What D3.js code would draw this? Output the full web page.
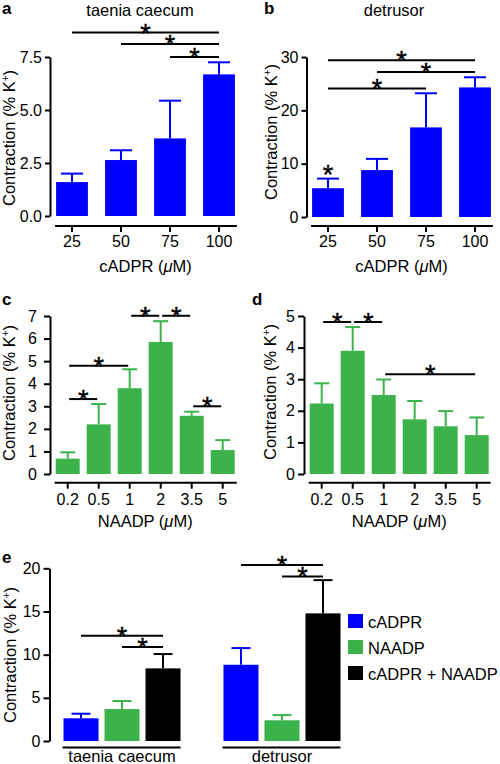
<!DOCTYPE html>
<html><head><meta charset="utf-8">
<script src="https://cdn.jsdelivr.net/npm/d3@7"></script>
<style>body{margin:0;background:#fff}svg{display:block}</style>
</head><body><svg id="chart" width="500" height="764"></svg>
<script>
// ---------- data ----------
const cadprDoses = ["25", "50", "75", "100"];
const naadpDoses = ["0.2", "0.5", "1", "2", "3.5", "5"];
const taeniaCadprMean = [1.6, 2.64, 3.66, 6.68];
const taeniaCadprSem = [0.4, 0.46, 1.78, 0.57];
const detrusorCadprMean = [5.4, 8.8, 16.8, 24.3];
const detrusorCadprSem = [1.8, 2.1, 6.4, 1.9];
const taeniaNaadpMean = [0.68, 2.2, 3.8, 5.85, 2.58, 1.06];
const taeniaNaadpSem = [0.28, 0.9, 0.84, 0.92, 0.18, 0.44];
const detrusorNaadpMean = [2.23, 3.9, 2.5, 1.73, 1.51, 1.23];
const detrusorNaadpSem = [0.64, 0.75, 0.49, 0.58, 0.48, 0.56];
const tissues = ["taenia caecum", "detrusor"];
const treatments = ["cADPR", "NAADP", "cADPR + NAADP"];
const cadprMean = [2.63, 8.83];
const cadprSem = [0.53, 1.93];
const naadpMean = [3.7, 2.4];
const naadpSem = [0.93, 0.6];
const bothMean = [8.41, 14.78];
const bothSem = [1.66, 3.85];
const yTicksA = [0, 2.5, 5, 7.5];
const yTicksB = [0, 10, 20, 30];
const yTicksC = [0, 1, 2, 3, 4, 5, 6, 7];
const yTicksD = [0, 1, 2, 3, 4, 5];
const yTicksE = [0, 5, 10, 15, 20];
// significance brackets: [fromIndex, toIndex, level in data units]
const sigA = [[0, 3, 8.65], [1, 3, 8.11], [2, 3, 7.5]];
const sigB = [[0, 3, 29.4], [1, 3, 27.2], [0, 2, 24.1]];
const sigC = [[2, 3, 7.01], [3, 4, 7.01], [0, 2, 4.8], [0, 1, 3.32], [4, 5, 3.0]];
const sigD = [[0, 1, 4.81], [1, 2, 4.81], [2, 5, 3.16]];
const sigETaenia = [[0, 2, 12.19], [1, 2, 10.88]];
const sigEDetrusor = [[0, 2, 20.37], [1, 2, 19.06]];

// ---------- drawing ----------
const FONT = '"Liberation Sans", Arial, Helvetica, sans-serif';
const BLUE = "#0000ff", GREEN = "#3bb34a", BLACK = "#000000";
const svg = d3.select("#chart").style("font-family", FONT);

function star(g, x, y) {
  g.append("text").attr("x", x).attr("y", y + 10).attr("text-anchor", "middle")
    .attr("font-size", 27).attr("fill", "#000").attr("stroke", "#000").attr("stroke-width", 0.4).text("*");
}

function yLabel(x, yc) {
  const t = svg.append("text").attr("transform", `translate(${x},${yc}) rotate(-90)`)
    .attr("text-anchor", "middle").attr("font-size", 16.5).attr("fill", "#000");
  t.append("tspan").text("Contraction (% K");
  t.append("tspan").attr("font-size", 10).attr("dy", -6).text("+");
  t.append("tspan").attr("dy", 6).text(")");
}

function xTitle(x, y, name) {
  const t = svg.append("text").attr("x", x).attr("y", y).attr("text-anchor", "middle")
    .attr("font-size", 16.5).attr("fill", "#000");
  t.append("tspan").text(name + " (");
  t.append("tspan").attr("font-style", "italic").text("\u03BC");
  t.append("tspan").text("M)");
}

function styleAxis(ag) {
  ag.attr("font-family", FONT).attr("font-size", 16);
  ag.selectAll("path,line").attr("stroke", "#000").attr("stroke-width", 2);
  ag.selectAll("text").attr("fill", "#000");
}

function drawPanel(o) {
  const g = svg.append("g");
  const y = d3.scaleLinear().domain([0, o.yMax]).range([o.y0, o.y1]);
  const x = d3.scaleBand().domain(o.cats).range(o.xr).paddingInner(o.pi).paddingOuter(o.pi / 2);
  const bw = x.bandwidth();
  const cx = i => x(o.cats[i]) + bw / 2;
  g.selectAll("rect.bar").data(o.means).join("rect").attr("class", "bar")
    .attr("x", (d, i) => x(o.cats[i])).attr("y", d => y(d))
    .attr("width", bw).attr("height", d => y(0) - y(d)).attr("fill", o.color);
  const eb = g.selectAll("g.err").data(o.means).join("g").attr("class", "err")
    .attr("stroke", o.color).attr("stroke-width", 2);
  eb.append("line").attr("x1", (d, i) => cx(i)).attr("x2", (d, i) => cx(i))
    .attr("y1", d => y(d)).attr("y2", (d, i) => y(d + o.sems[i]));
  eb.append("line").attr("x1", (d, i) => cx(i) - o.cap / 2).attr("x2", (d, i) => cx(i) + o.cap / 2)
    .attr("y1", (d, i) => y(d + o.sems[i])).attr("y2", (d, i) => y(d + o.sems[i]));
  // y axis
  const ya = g.append("g").attr("transform", `translate(${o.ax},0)`)
    .call(d3.axisLeft(y).tickValues(o.ticks).tickFormat(o.fmt).tickSize(o.ts).tickSizeOuter(0).tickPadding(o.tp));
  styleAxis(ya);
  // x axis
  const xa = g.append("g").attr("transform", `translate(0,${o.xAxisY})`)
    .call(d3.axisBottom(x).tickSize(6).tickPadding(o.xtp).tickSizeOuter(0));
  xa.select(".domain").remove();
  xa.append("line").attr("x1", x(o.cats[0]) - 1).attr("x2", x(o.cats[o.cats.length - 1]) + bw + 2)
    .attr("y1", 0).attr("y2", 0);
  styleAxis(xa);
  // significance
  o.sig.forEach(([a, b, lv]) => {
    const x1 = cx(a) + o.inset, x2 = cx(b) - o.inset, yy = y(lv);
    g.append("line").attr("x1", x1).attr("x2", x2).attr("y1", yy).attr("y2", yy)
      .attr("stroke", "#000").attr("stroke-width", 2);
    star(g, (x1 + x2) / 2, yy);
  });
  if (o.extraStar) star(g, cx(o.extraStar[0]), y(o.extraStar[1]));
  const mid = (x(o.cats[0]) + x(o.cats[o.cats.length - 1]) + bw) / 2;
  xTitle(mid, o.xTitleY, o.xName);
}

const f1 = d3.format(".1f"), f0 = d3.format("d");

drawPanel({ cats: cadprDoses, means: taeniaCadprMean, sems: taeniaCadprSem, color: BLUE,
  yMax: 7.5, y0: 216, y1: 57, xr: [47.5, 243.5], pi: 0.35, ax: 50, ticks: yTicksA, fmt: f1,
  ts: 5, tp: 3, xAxisY: 226, xtp: 4, cap: 22, sig: sigA, inset: 0, xName: "cADPR", xTitleY: 272 });
drawPanel({ cats: cadprDoses, means: detrusorCadprMean, sems: detrusorCadprSem, color: BLUE,
  yMax: 30, y0: 217, y1: 57, xr: [303.5, 499.5], pi: 0.35, ax: 306.5, ticks: yTicksB, fmt: f0,
  ts: 5, tp: 3, xAxisY: 226, xtp: 4, cap: 22, sig: sigB, inset: 0, extraStar: [0, 8.1],
  xName: "cADPR", xTitleY: 272 });
drawPanel({ cats: naadpDoses, means: taeniaNaadpMean, sems: taeniaNaadpSem, color: GREEN,
  yMax: 7, y0: 474, y1: 316, xr: [52.2, 238.2], pi: 0.226, ax: 50, ticks: yTicksC, fmt: f0,
  ts: 6, tp: 7, xAxisY: 482.7, xtp: 5, cap: 15, sig: sigC, inset: 1.5, xName: "NAADP", xTitleY: 527 });
drawPanel({ cats: naadpDoses, means: detrusorNaadpMean, sems: detrusorNaadpSem, color: GREEN,
  yMax: 5, y0: 474, y1: 316, xr: [306.2, 492.2], pi: 0.226, ax: 304, ticks: yTicksD, fmt: f0,
  ts: 6, tp: 3, xAxisY: 482.7, xtp: 5, cap: 15, sig: sigD, inset: 1.5, xName: "NAADP", xTitleY: 527 });

// ---------- panel e ----------
(function () {
  const g = svg.append("g");
  const y = d3.scaleLinear().domain([0, 20]).range([741, 568.3]);
  const x0 = d3.scaleBand().domain(tissues).range([60.5, 343.5]).paddingInner(0.231).paddingOuter(0);
  const x1 = d3.scaleBand().domain(treatments).range([0, x0.bandwidth()]).paddingInner(0.146).paddingOuter(0.073);
  const color = d3.scaleOrdinal().domain(treatments).range([BLUE, GREEN, BLACK]);
  const means = [cadprMean, naadpMean, bothMean];
  const sems = [cadprSem, naadpSem, bothSem];
  const rows = [];
  tissues.forEach((t, ti) => treatments.forEach((s, si) =>
    rows.push({ t, s, v: means[si][ti], e: sems[si][ti] })));
  const bw = x1.bandwidth();
  const cx = d => x0(d.t) + x1(d.s) + bw / 2;
  g.selectAll("rect.bar").data(rows).join("rect").attr("class", "bar")
    .attr("x", d => x0(d.t) + x1(d.s)).attr("y", d => y(d.v)).attr("width", bw)
    .attr("height", d => y(0) - y(d.v)).attr("fill", d => color(d.s));
  const cap = 19;
  const eb = g.selectAll("g.err").data(rows).join("g").attr("stroke", d => color(d.s)).attr("stroke-width", 2);
  eb.append("line").attr("x1", cx).attr("x2", cx).attr("y1", d => y(d.v)).attr("y2", d => y(d.v + d.e));
  eb.append("line").attr("x1", d => cx(d) - cap / 2).attr("x2", d => cx(d) + cap / 2)
    .attr("y1", d => y(d.v + d.e)).attr("y2", d => y(d.v + d.e));
  const ya = g.append("g").attr("transform", "translate(49.5,0)")
    .call(d3.axisLeft(y).tickValues(yTicksE).tickFormat(f0).tickSize(6).tickSizeOuter(0).tickPadding(3));
  styleAxis(ya);
  tissues.forEach((t, ti) => {
    const l = x0(t) + x1(treatments[0]) - 1, r = x0(t) + x1(treatments[2]) + bw;
    g.append("line").attr("x1", l).attr("x2", r).attr("y1", 747.5).attr("y2", 747.5)
      .attr("stroke", "#000").attr("stroke-width", 2);
    g.append("text").attr("x", x0(t) + x0.bandwidth() / 2).attr("y", 762).attr("text-anchor", "middle")
      .attr("font-size", 16.5).attr("fill", "#000").text(t);
    const sig = ti === 0 ? sigETaenia : sigEDetrusor;
    sig.forEach(([a, b, lv]) => {
      const xa = x0(t) + x1(treatments[a]) + bw / 2, xb = x0(t) + x1(treatments[b]) + bw / 2, yy = y(lv);
      g.append("line").attr("x1", xa).attr("x2", xb).attr("y1", yy).attr("y2", yy)
        .attr("stroke", "#000").attr("stroke-width", 2);
      star(g, (xa + xb) / 2, yy);
    });
  });
  // legend
  const lg = g.append("g").attr("transform", "translate(348,614)");
  treatments.forEach((s, i) => {
    lg.append("rect").attr("x", 0).attr("y", i * 26).attr("width", 15).attr("height", 14).attr("fill", color(s));
    lg.append("text").attr("x", 20).attr("y", i * 26 + 14).attr("font-size", 16.5).attr("fill", "#000").text(s);
  });
})();

// ---------- labels ----------
yLabel(15, 138); yLabel(277, 132); yLabel(15, 393); yLabel(276, 392); yLabel(15.5, 655);
function title(x, y, s) {
  svg.append("text").attr("x", x).attr("y", y).attr("text-anchor", "middle").attr("font-size", 16.5)
    .attr("fill", "#000").text(s);
}
title(140, 16, "taenia caecum"); title(394, 16, "detrusor");
function letter(x, y, s) {
  svg.append("text").attr("x", x).attr("y", y).attr("font-size", 17).attr("font-weight", "bold")
    .attr("fill", "#000").text(s);
}
letter(2, 14, "a"); letter(264, 14, "b"); letter(2, 305, "c"); letter(252, 305, "d"); letter(2, 563, "e");
</script></body></html>
